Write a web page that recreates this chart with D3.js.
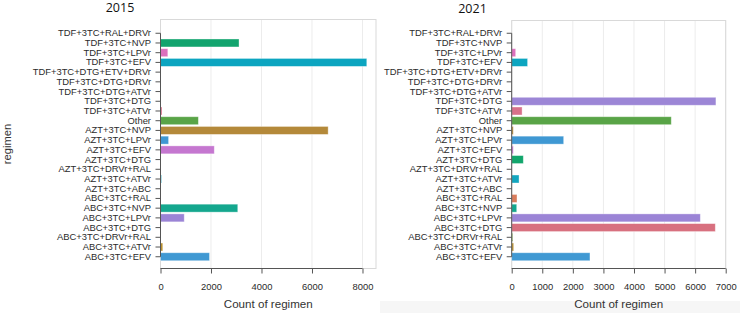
<!DOCTYPE html>
<html>
<head>
<meta charset="utf-8">
<script src="https://cdn.jsdelivr.net/npm/d3@7"></script>
<style>
  body { margin: 0; background: #fff; }
  svg { display: block; }
  .tick text { font-family: "Liberation Sans", Arial, sans-serif; }
</style>
</head>
<body>
<div id="chart"></div>
<script>
// regimens, top to bottom
const categories = [
  "TDF+3TC+RAL+DRVr", "TDF+3TC+NVP", "TDF+3TC+LPVr", "TDF+3TC+EFV",
  "TDF+3TC+DTG+ETV+DRVr", "TDF+3TC+DTG+DRVr", "TDF+3TC+DTG+ATVr", "TDF+3TC+DTG",
  "TDF+3TC+ATVr", "Other", "AZT+3TC+NVP", "AZT+3TC+LPVr", "AZT+3TC+EFV",
  "AZT+3TC+DTG", "AZT+3TC+DRVr+RAL", "AZT+3TC+ATVr", "AZT+3TC+ABC",
  "ABC+3TC+RAL", "ABC+3TC+NVP", "ABC+3TC+LPVr", "ABC+3TC+DTG",
  "ABC+3TC+DRVr+RAL", "ABC+3TC+ATVr", "ABC+3TC+EFV",
];
const counts2015 = [
  0, 3110, 290, 8170, 0, 0, 0, 0, 60, 1500, 6640, 320, 2130,
  0, 0, 40, 20, 0, 3060, 940, 0, 0, 90, 1940,
];
const counts2021 = [
  0, 5, 130, 520, 0, 0, 0, 6680, 340, 5220, 52, 1700, 52,
  380, 0, 240, 0, 173, 164, 6170, 6660, 33, 65, 2560,
];
const colors = [
  "#c6903a", "#12a46e", "#dc70bd", "#0ca5c0", "#8a8fd6", "#d17a6e", "#6aa03a", "#9c86d6",
  "#d8718a", "#59a447", "#b4893a", "#3f98d3", "#c577d0", "#12a66c", "#8d9a3c", "#12a6bf",
  "#b68c3a", "#d97c5c", "#14a78e", "#9b84d6", "#d8707f", "#6d9c3a", "#b9902f", "#4099d3",
];
const ticks2015 = [0, 2000, 4000, 6000, 8000];
const ticks2021 = [0, 1000, 2000, 3000, 4000, 5000, 6000, 7000];

const W = 740, H = 313;
const svg = d3.select("#chart").append("svg").attr("width", W).attr("height", H);

// faint strip under the right figure
svg.append("rect").attr("x", 380).attr("y", 301).attr("width", W - 380).attr("height", H - 301)
  .attr("fill", "#f6f6f6");

const drawPanel = ({ title, titleX, titleY, values, ticks, xMax, left, right, top, bottom }) => {
  const xScale = d3.scaleLinear().domain([0, xMax]).range([left, right]);
  const yScale = d3.scaleBand().domain(categories).range([28.4, 261.6])
    .paddingInner(0.18).paddingOuter(0.09);
  const g = svg.append("g");

  // grid
  g.selectAll(".grid").data(ticks).join("line")
    .attr("x1", (d) => xScale(d)).attr("x2", (d) => xScale(d))
    .attr("y1", top).attr("y2", bottom)
    .attr("stroke", "#ececec").attr("stroke-width", 1);

  // light frame
  g.append("rect").attr("x", left).attr("y", top)
    .attr("width", right - left).attr("height", bottom - top)
    .attr("fill", "none").attr("stroke", "#d9d9d9").attr("stroke-width", 1);

  // bars
  g.selectAll(".bar").data(categories).join("rect")
    .attr("x", xScale(0))
    .attr("y", (d) => yScale(d))
    .attr("height", yScale.bandwidth())
    .attr("width", (d, i) => xScale(values[i]) - xScale(0))
    .attr("fill", (d, i) => colors[i])
    .attr("stroke", "#fff").attr("stroke-opacity", 0.45).attr("stroke-width", 0.8);

  // y axis
  const yAxis = g.append("g").attr("transform", `translate(${left},0)`)
    .call(d3.axisLeft(yScale).tickSize(5).tickPadding(4.5));
  yAxis.select(".domain").remove();
  yAxis.selectAll(".tick line").attr("stroke", "#555");
  yAxis.selectAll(".tick text").attr("fill", "#2b2b2b").style("font-size", "9.4px");
  const first = yScale(categories[0]) + yScale.bandwidth() / 2;
  const last = yScale(categories[categories.length - 1]) + yScale.bandwidth() / 2;
  yAxis.append("line").attr("x1", 0).attr("x2", 0).attr("y1", first).attr("y2", last)
    .attr("stroke", "#555");

  // x axis
  const xAxis = g.append("g").attr("transform", `translate(0,${bottom})`)
    .call(d3.axisBottom(xScale).tickValues(ticks).tickFormat(d3.format("d"))
      .tickSize(5).tickPadding(9.4));
  xAxis.select(".domain").remove();
  xAxis.selectAll(".tick line").attr("stroke", "#555");
  xAxis.selectAll(".tick text").attr("fill", "#2b2b2b").style("font-size", "9.4px");
  xAxis.append("line").attr("x1", xScale(0)).attr("x2", xScale(ticks[ticks.length - 1]))
    .attr("y1", 0).attr("y2", 0).attr("stroke", "#555");

  g.append("text").attr("x", (left + right) / 2).attr("y", 308)
    .attr("text-anchor", "middle").attr("fill", "#333")
    .style("font-family", "'Liberation Sans', Arial, sans-serif").style("font-size", "11.6px")
    .text("Count of regimen");

  g.append("text").attr("x", titleX).attr("y", titleY)
    .attr("text-anchor", "middle").attr("fill", "#111")
    .style("font-family", "'Open Sans', sans-serif").style("font-size", "12.5px")
    .text(title);
};

drawPanel({ title: "2015", titleX: 120, titleY: 12, values: counts2015, ticks: ticks2015,
  xMax: 8535, left: 160.5, right: 376, top: 19.5, bottom: 268.5 });
drawPanel({ title: "2021", titleX: 472.5, titleY: 13, values: counts2021, ticks: ticks2021,
  xMax: 7000, left: 511.7, right: 725.7, top: 20.5, bottom: 268.5 });

svg.append("text").attr("transform", "translate(11,144) rotate(-90)")
  .attr("text-anchor", "middle").attr("fill", "#333")
  .style("font-family", "'Liberation Sans', Arial, sans-serif").style("font-size", "11.2px")
  .text("regimen");
</script>
</body>
</html>
